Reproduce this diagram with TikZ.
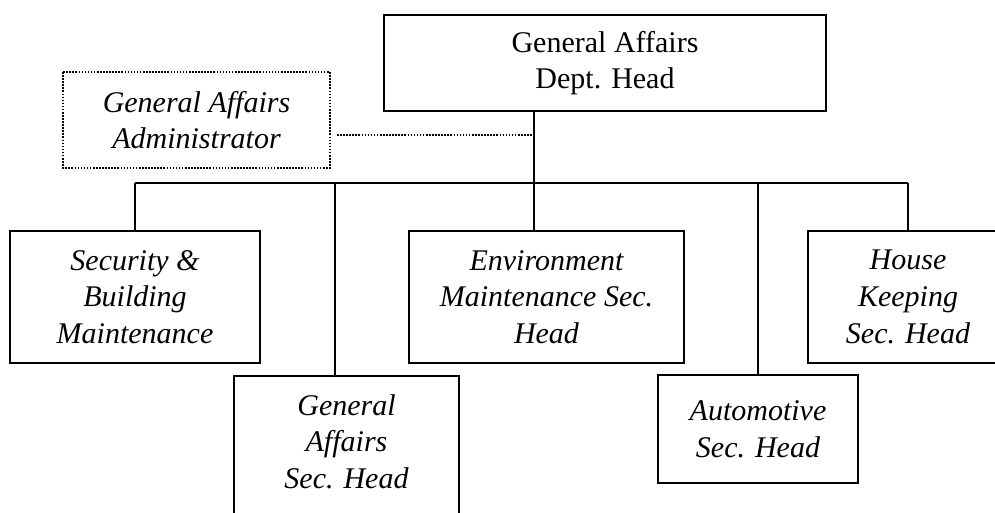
\documentclass[tikz,border=0pt]{standalone}
\usepackage{fontspec}
\setmainfont{Liberation Serif}
\begin{document}
\begin{tikzpicture}[x=0.75pt,y=-0.75pt,
  box/.style={draw, line width=1.4pt, align=center, inner sep=0pt, font=\fontsize{22.5}{27.5}\selectfont},
  ibox/.style={box, font=\fontsize{22.5}{27.5}\selectfont\itshape},
  itxt/.style={align=center, inner sep=0pt, font=\fontsize{22.5}{27.5}\selectfont\itshape},
  conn/.style={line width=1.4pt},
  dotline/.style={line width=1.2pt, dash pattern=on 1.2pt off 1.1pt}]
\useasboundingbox (0,0) rectangle (995,513);
\clip (0,0) rectangle (995,513);

% boxes
\node[box, minimum width=331.5pt, minimum height=72pt] (top) at (605,63) {General Affairs\\Dept. Head};
\node[ibox, draw=none, minimum width=198.75pt, minimum height=70.5pt] (adm) at (196.5,120) {General Affairs\\Administrator};
\draw[dotline] (adm.north west) rectangle (adm.south east);
\node[ibox, minimum width=187.5pt, minimum height=99pt] (sec) at (135,297) {Security \&\\Building\\Maintenance};
\node[ibox, minimum width=206.25pt, minimum height=99pt] (env) at (546.5,297) {Environment\\Maintenance Sec.\\Head};
\node[ibox, minimum width=150pt, minimum height=99pt] (hk) at (908,297) {House\\Keeping\\Sec. Head};
\node[ibox, minimum width=150pt, minimum height=81pt] (auto) at (758,429) {Automotive\\Sec. Head};
\node[box, anchor=north, minimum width=168.75pt, minimum height=150pt] (gas) at (346.5,375) {};
\node[itxt] (gast) at (346.5,441.5) {General\\Affairs\\Sec. Head};

% bus coordinates
\coordinate (busL) at (135,183);
\coordinate (busR) at (908,183);
\coordinate (busC) at (534,183);
\coordinate (busG) at (335,183);
\coordinate (busA) at (758,183);
\coordinate (dotS) at (337,135);

% connectors
\draw[conn] (top.south -| busC) -- (busC);
\draw[conn] (busL) -- (busR);
\draw[conn] (busL) -- (sec.north);
\draw[conn] (busG) -- (gas.north -| busG);
\draw[conn] (busC) -- (env.north -| busC);
\draw[conn] (busA) -- (auto.north);
\draw[conn] (busR) -- (hk.north);
\draw[dotline] (dotS) -- (dotS -| busC);
\end{tikzpicture}
\end{document}
